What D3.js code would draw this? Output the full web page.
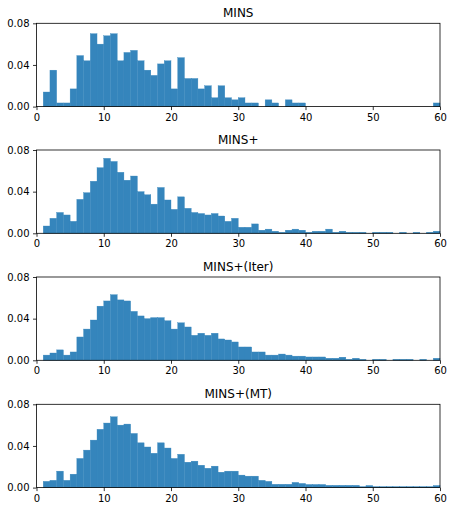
<!DOCTYPE html>
<html>
<head>
<meta charset="utf-8">
<script src="https://d3js.org/d3.v7.min.js"></script>
<style>
  html, body { margin: 0; padding: 0; background: #fff; }
  svg { display: block; font-family: "DejaVu Sans", sans-serif; }
</style>
</head>
<body>
<script>
// Bin edges: 0..60 step 1; value i is density for bin [i, i+1)
const binEdges = d3.range(0, 61, 1);
const titles = ["MINS", "MINS+", "MINS+(Iter)", "MINS+(MT)"];
const xTicks = [0, 10, 20, 30, 40, 50, 60];
const yTicks = [0, 0.04, 0.08];

const minsValues = [
  0, 0.014, 0.035, 0.0035, 0.0035, 0.017, 0.049, 0.044, 0.070, 0.060,
  0.068, 0.070, 0.044, 0.052, 0.054, 0.044, 0.035, 0.030, 0.041, 0.044,
  0.017, 0.047, 0.027, 0.027, 0.017, 0.020, 0.0085, 0.020, 0.0085, 0.0065,
  0.0085, 0.0035, 0.0035, 0, 0.0065, 0.0035, 0, 0.0065, 0.0035, 0.0035,
  0, 0, 0, 0, 0, 0, 0, 0, 0, 0,
  0, 0, 0, 0, 0, 0, 0, 0, 0, 0.0035
];
const minsPlusValues = [
  0, 0.007, 0.0144, 0.020, 0.0176, 0.0115, 0.0326, 0.039, 0.050, 0.063,
  0.072, 0.069, 0.0586, 0.051, 0.055, 0.040, 0.037, 0.028, 0.044, 0.032,
  0.023, 0.035, 0.024, 0.020, 0.019, 0.0176, 0.019, 0.0166, 0.0115, 0.0144,
  0.0058, 0.0058, 0.009, 0.003, 0.004, 0.002, 0.001, 0.003, 0.004, 0.003,
  0.001, 0.002, 0.002, 0.004, 0.001, 0.002, 0.001, 0.001, 0.001, 0,
  0.001, 0.001, 0.001, 0, 0.001, 0, 0.001, 0, 0.001, 0.002
];
const minsIterValues = [
  0, 0.005, 0.007, 0.010, 0.005, 0.008, 0.0224, 0.030, 0.0387, 0.052,
  0.057, 0.063, 0.058, 0.057, 0.047, 0.0426, 0.040, 0.041, 0.041, 0.038,
  0.030, 0.036, 0.032, 0.024, 0.026, 0.024, 0.026, 0.0205, 0.0195, 0.0176,
  0.0128, 0.0128, 0.008, 0.008, 0.005, 0.005, 0.006, 0.005, 0.004, 0.004,
  0.0032, 0.0032, 0.0032, 0.002, 0.002, 0.003, 0.001, 0.002, 0.001, 0,
  0.001, 0.001, 0, 0.001, 0.001, 0.001, 0, 0.001, 0, 0.002
];
const minsMTValues = [
  0, 0.006, 0.007, 0.0158, 0.007, 0.0129, 0.028, 0.036, 0.0456, 0.056,
  0.062, 0.068, 0.060, 0.061, 0.052, 0.043, 0.039, 0.033, 0.043, 0.038,
  0.028, 0.032, 0.0244, 0.0254, 0.0215, 0.0186, 0.0206, 0.0148, 0.0158, 0.0158,
  0.012, 0.011, 0.011, 0.007, 0.006, 0.0032, 0.0032, 0.0032, 0.005, 0.004,
  0.003, 0.003, 0.003, 0.0022, 0.0022, 0.0022, 0.0022, 0.0022, 0.001, 0.002,
  0.001, 0.001, 0.001, 0.001, 0.001, 0.001, 0.001, 0.001, 0.001, 0.002
];
const seriesList = [minsValues, minsPlusValues, minsIterValues, minsMTValues];

const W = 453, H = 511;
const left = 36.5, right = 440;
const panelTops = [23.3, 150, 277, 404.3];
const panelH = 83.3;
const barColor = "#3585bc";

const svg = d3.select("body").append("svg")
  .attr("width", W).attr("height", H);

const x = d3.scaleLinear().domain([0, 60]).range([left, right]);

seriesList.forEach((vals, p) => {
  const top = panelTops[p];
  const y = d3.scaleLinear().domain([0, 0.08]).range([top + panelH, top]);
  const g = svg.append("g");

  const bins = vals.map((v, i) => ({x0: binEdges[i], x1: binEdges[i + 1], v}));
  g.selectAll("rect.bar").data(bins.filter(d => d.v > 0)).enter().append("rect")
    .attr("class", "bar")
    .attr("x", d => x(d.x0))
    .attr("width", d => x(d.x1) - x(d.x0))
    .attr("y", d => y(d.v))
    .attr("height", d => y(0) - y(d.v))
    .attr("fill", barColor)
    .attr("stroke", barColor)
    .attr("stroke-width", 0.35);

  // frame
  g.append("rect")
    .attr("x", left).attr("y", top)
    .attr("width", right - left).attr("height", panelH)
    .attr("fill", "none").attr("stroke", "#000").attr("stroke-width", 0.8);

  const xAxis = d3.axisBottom(x).tickValues(xTicks).tickSize(3.5).tickPadding(3.5)
    .tickFormat(d3.format("d"));
  const gx = g.append("g").attr("transform", `translate(0,${top + panelH})`).call(xAxis);
  const yAxis = d3.axisLeft(y).tickValues(yTicks).tickSize(3.5).tickPadding(3.5)
    .tickFormat(d3.format(".2f"));
  const gy = g.append("g").attr("transform", `translate(${left},0)`).call(yAxis);

  [gx, gy].forEach(a => {
    a.select(".domain").remove();
    a.selectAll(".tick line").attr("stroke", "#000").attr("stroke-width", 0.8);
    a.selectAll(".tick text").attr("fill", "#000")
      .style("font-family", "'DejaVu Sans', sans-serif").style("font-size", "10px");
  });

  g.append("text")
    .attr("x", (left + right) / 2).attr("y", top - 6)
    .attr("text-anchor", "middle")
    .style("font-family", "'DejaVu Sans', sans-serif").style("font-size", "12px")
    .attr("fill", "#000")
    .text(titles[p]);
});
</script>
</body>
</html>
